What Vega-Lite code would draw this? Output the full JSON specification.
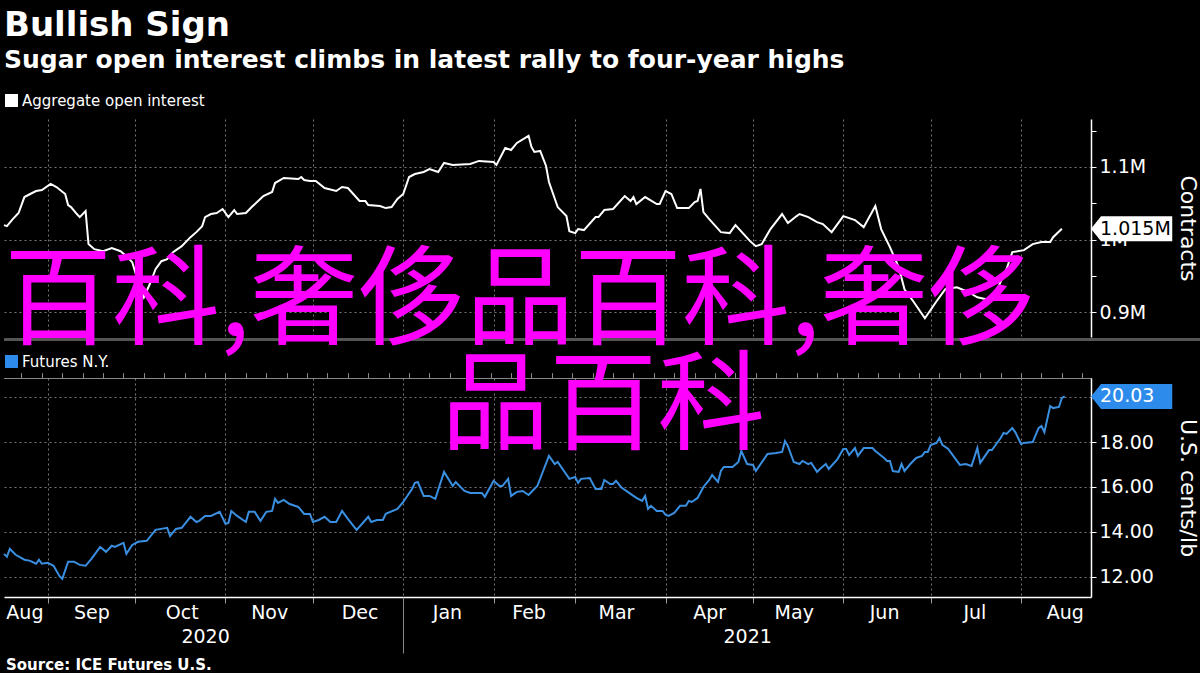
{
"$schema": "https://vega.github.io/schema/vega-lite/v6.json",
"background": "black",
"padding": {"left": 0, "top": 9, "right": 0, "bottom": 0},
"title": {"text": "Bullish Sign", "subtitle": "Sugar open interest climbs in latest rally to four-year highs", "anchor": "start", "frame": "group", "font": "DejaVu Sans", "fontSize": 34, "fontWeight": "bold", "color": "white", "subtitleFont": "DejaVu Sans", "subtitleFontSize": 25, "subtitleFontWeight": "bold", "subtitleColor": "white", "subtitlePadding": 5, "offset": 20, "dx": 0},
"datasets": {
"oi": [
{"d":"2020-08-17","v":1020000},{"d":"2020-08-18","v":1018600},{"d":"2020-08-20","v":1028300},{"d":"2020-08-22","v":1036600},{"d":"2020-08-24","v":1058600},{"d":"2020-08-26","v":1062800},{"d":"2020-08-28","v":1066900},{"d":"2020-08-30","v":1068300},{"d":"2020-09-02","v":1076600},{"d":"2020-09-04","v":1072400},{"d":"2020-09-07","v":1062800},{"d":"2020-09-08","v":1047600},{"d":"2020-09-09","v":1044800},{"d":"2020-09-11","v":1035200},{"d":"2020-09-12","v":1031000},{"d":"2020-09-14","v":1039300},{"d":"2020-09-15","v":993800},{"d":"2020-09-17","v":986900},{"d":"2020-09-20","v":984100},{"d":"2020-09-23","v":988300},{"d":"2020-09-26","v":984100},{"d":"2020-09-28","v":977200},{"d":"2020-09-30","v":969000},{"d":"2020-10-02","v":942800},{"d":"2020-10-04","v":920700},{"d":"2020-10-06","v":938600},{"d":"2020-10-08","v":959300},{"d":"2020-10-10","v":970300},{"d":"2020-10-12","v":973100},{"d":"2020-10-14","v":982800},{"d":"2020-10-17","v":991000},{"d":"2020-10-20","v":1003400},{"d":"2020-10-22","v":1010300},{"d":"2020-10-24","v":1018600},{"d":"2020-10-25","v":1031000},{"d":"2020-10-27","v":1035200},{"d":"2020-10-29","v":1036600},{"d":"2020-10-31","v":1042100},{"d":"2020-11-02","v":1031000},{"d":"2020-11-04","v":1040700},{"d":"2020-11-05","v":1035200},{"d":"2020-11-08","v":1036600},{"d":"2020-11-10","v":1044800},{"d":"2020-11-14","v":1060000},{"d":"2020-11-17","v":1065500},{"d":"2020-11-18","v":1077900},{"d":"2020-11-21","v":1084800},{"d":"2020-11-26","v":1083400},{"d":"2020-11-27","v":1086200},{"d":"2020-11-28","v":1082100},{"d":"2020-11-30","v":1080700},{"d":"2020-12-02","v":1080700},{"d":"2020-12-05","v":1071000},{"d":"2020-12-09","v":1066900},{"d":"2020-12-11","v":1072400},{"d":"2020-12-13","v":1071000},{"d":"2020-12-17","v":1053100},{"d":"2020-12-19","v":1053100},{"d":"2020-12-20","v":1047600},{"d":"2020-12-24","v":1046200},{"d":"2020-12-26","v":1043400},{"d":"2020-12-28","v":1044800},{"d":"2020-12-30","v":1055900},{"d":"2021-01-01","v":1062800},{"d":"2021-01-03","v":1086200},{"d":"2021-01-05","v":1090300},{"d":"2021-01-08","v":1093100},{"d":"2021-01-10","v":1097200},{"d":"2021-01-13","v":1093100},{"d":"2021-01-15","v":1105500},{"d":"2021-01-18","v":1102800},{"d":"2021-01-24","v":1104100},{"d":"2021-01-27","v":1108300},{"d":"2021-02-01","v":1106900},{"d":"2021-02-02","v":1102800},{"d":"2021-02-05","v":1126200},{"d":"2021-02-07","v":1123400},{"d":"2021-02-09","v":1133100},{"d":"2021-02-13","v":1142800},{"d":"2021-02-14","v":1127600},{"d":"2021-02-15","v":1120700},{"d":"2021-02-17","v":1122100},{"d":"2021-02-19","v":1101400},{"d":"2021-02-20","v":1079300},{"d":"2021-02-23","v":1044800},{"d":"2021-02-26","v":1032400},{"d":"2021-02-27","v":1011700},{"d":"2021-03-01","v":1009000},{"d":"2021-03-02","v":1014500},{"d":"2021-03-04","v":1013100},{"d":"2021-03-08","v":1031000},{"d":"2021-03-09","v":1031000},{"d":"2021-03-11","v":1040700},{"d":"2021-03-14","v":1042100},{"d":"2021-03-18","v":1060000},{"d":"2021-03-20","v":1053100},{"d":"2021-03-21","v":1058600},{"d":"2021-03-22","v":1049000},{"d":"2021-03-25","v":1058600},{"d":"2021-03-29","v":1049000},{"d":"2021-03-30","v":1049000},{"d":"2021-04-01","v":1066900},{"d":"2021-04-03","v":1062800},{"d":"2021-04-05","v":1043400},{"d":"2021-04-09","v":1043400},{"d":"2021-04-11","v":1051700},{"d":"2021-04-12","v":1053100},{"d":"2021-04-13","v":1069700},{"d":"2021-04-14","v":1037900},{"d":"2021-04-16","v":1028300},{"d":"2021-04-20","v":1010300},{"d":"2021-04-23","v":1009000},{"d":"2021-04-25","v":1020000},{"d":"2021-04-30","v":997900},{"d":"2021-05-02","v":991000},{"d":"2021-05-04","v":993800},{"d":"2021-05-07","v":1014500},{"d":"2021-05-11","v":1035200},{"d":"2021-05-13","v":1022800},{"d":"2021-05-16","v":1032400},{"d":"2021-05-17","v":1035200},{"d":"2021-05-20","v":1031000},{"d":"2021-05-23","v":1024100},{"d":"2021-05-25","v":1021400},{"d":"2021-05-28","v":1010300},{"d":"2021-06-01","v":1032400},{"d":"2021-06-05","v":1026900},{"d":"2021-06-08","v":1017200},{"d":"2021-06-12","v":1046200},{"d":"2021-06-14","v":1014500},{"d":"2021-06-17","v":989700},{"d":"2021-06-20","v":962100},{"d":"2021-06-22","v":931700},{"d":"2021-06-25","v":915200},{"d":"2021-06-29","v":891700},{"d":"2021-07-03","v":915200},{"d":"2021-07-06","v":931700},{"d":"2021-07-10","v":934500},{"d":"2021-07-14","v":927600},{"d":"2021-07-17","v":920700},{"d":"2021-07-20","v":917900},{"d":"2021-07-23","v":924800},{"d":"2021-07-27","v":959300},{"d":"2021-07-29","v":982800},{"d":"2021-08-02","v":985500},{"d":"2021-08-05","v":993800},{"d":"2021-08-08","v":996600},{"d":"2021-08-11","v":996600},{"d":"2021-08-12","v":1003400},{"d":"2021-08-15","v":1015000}
],
"px": [
{"d":"2020-08-17","v":13.02},{"d":"2020-08-18","v":12.89},{"d":"2020-08-19","v":13.24},{"d":"2020-08-21","v":12.98},{"d":"2020-08-24","v":12.76},{"d":"2020-08-26","v":12.71},{"d":"2020-08-28","v":12.58},{"d":"2020-08-29","v":12.76},{"d":"2020-08-30","v":12.58},{"d":"2020-09-01","v":12.62},{"d":"2020-09-03","v":12.49},{"d":"2020-09-05","v":12.04},{"d":"2020-09-06","v":11.91},{"d":"2020-09-08","v":12.67},{"d":"2020-09-10","v":12.67},{"d":"2020-09-12","v":12.53},{"d":"2020-09-14","v":12.49},{"d":"2020-09-16","v":12.80},{"d":"2020-09-19","v":13.33},{"d":"2020-09-21","v":13.11},{"d":"2020-09-23","v":13.38},{"d":"2020-09-24","v":13.33},{"d":"2020-09-27","v":13.51},{"d":"2020-09-28","v":13.02},{"d":"2020-09-30","v":13.42},{"d":"2020-10-02","v":13.56},{"d":"2020-10-05","v":13.60},{"d":"2020-10-08","v":14.09},{"d":"2020-10-12","v":14.18},{"d":"2020-10-13","v":13.82},{"d":"2020-10-15","v":14.13},{"d":"2020-10-17","v":14.18},{"d":"2020-10-20","v":14.67},{"d":"2020-10-22","v":14.44},{"d":"2020-10-23","v":14.49},{"d":"2020-10-25","v":14.71},{"d":"2020-10-27","v":14.71},{"d":"2020-10-30","v":14.89},{"d":"2020-11-01","v":14.36},{"d":"2020-11-02","v":14.40},{"d":"2020-11-03","v":14.93},{"d":"2020-11-05","v":14.71},{"d":"2020-11-08","v":14.44},{"d":"2020-11-09","v":14.89},{"d":"2020-11-11","v":14.89},{"d":"2020-11-13","v":14.49},{"d":"2020-11-15","v":14.89},{"d":"2020-11-17","v":14.93},{"d":"2020-11-18","v":15.47},{"d":"2020-11-19","v":15.29},{"d":"2020-11-21","v":15.42},{"d":"2020-11-23","v":15.24},{"d":"2020-11-26","v":15.11},{"d":"2020-11-28","v":14.80},{"d":"2020-11-30","v":14.80},{"d":"2020-12-01","v":14.44},{"d":"2020-12-03","v":14.53},{"d":"2020-12-05","v":14.67},{"d":"2020-12-07","v":14.44},{"d":"2020-12-09","v":14.44},{"d":"2020-12-11","v":14.93},{"d":"2020-12-13","v":14.58},{"d":"2020-12-16","v":14.09},{"d":"2020-12-20","v":14.67},{"d":"2020-12-21","v":14.44},{"d":"2020-12-23","v":14.53},{"d":"2020-12-25","v":14.53},{"d":"2020-12-26","v":14.80},{"d":"2020-12-30","v":15.02},{"d":"2021-01-01","v":15.33},{"d":"2021-01-04","v":15.91},{"d":"2021-01-05","v":16.18},{"d":"2021-01-06","v":16.22},{"d":"2021-01-08","v":15.60},{"d":"2021-01-10","v":15.60},{"d":"2021-01-12","v":15.47},{"d":"2021-01-15","v":16.67},{"d":"2021-01-18","v":16.04},{"d":"2021-01-19","v":16.22},{"d":"2021-01-22","v":15.82},{"d":"2021-01-24","v":15.73},{"d":"2021-01-28","v":15.73},{"d":"2021-01-29","v":15.56},{"d":"2021-02-01","v":16.27},{"d":"2021-02-03","v":16.04},{"d":"2021-02-04","v":16.04},{"d":"2021-02-06","v":16.36},{"d":"2021-02-07","v":15.60},{"d":"2021-02-09","v":15.78},{"d":"2021-02-11","v":15.82},{"d":"2021-02-13","v":15.64},{"d":"2021-02-16","v":16.04},{"d":"2021-02-18","v":16.71},{"d":"2021-02-20","v":17.38},{"d":"2021-02-22","v":17.02},{"d":"2021-02-23","v":17.11},{"d":"2021-02-27","v":16.36},{"d":"2021-03-01","v":16.44},{"d":"2021-03-02","v":16.18},{"d":"2021-03-03","v":16.36},{"d":"2021-03-06","v":16.40},{"d":"2021-03-08","v":15.91},{"d":"2021-03-10","v":15.91},{"d":"2021-03-11","v":16.31},{"d":"2021-03-13","v":16.13},{"d":"2021-03-14","v":16.13},{"d":"2021-03-15","v":16.27},{"d":"2021-03-17","v":15.96},{"d":"2021-03-20","v":15.69},{"d":"2021-03-22","v":15.51},{"d":"2021-03-24","v":15.38},{"d":"2021-03-25","v":15.60},{"d":"2021-03-26","v":15.02},{"d":"2021-03-27","v":15.16},{"d":"2021-03-29","v":14.93},{"d":"2021-03-31","v":14.93},{"d":"2021-04-01","v":14.76},{"d":"2021-04-02","v":14.71},{"d":"2021-04-04","v":14.84},{"d":"2021-04-06","v":15.16},{"d":"2021-04-08","v":15.16},{"d":"2021-04-09","v":15.38},{"d":"2021-04-10","v":15.33},{"d":"2021-04-12","v":15.51},{"d":"2021-04-14","v":16.00},{"d":"2021-04-16","v":16.31},{"d":"2021-04-17","v":16.53},{"d":"2021-04-19","v":16.22},{"d":"2021-04-20","v":16.71},{"d":"2021-04-21","v":16.89},{"d":"2021-04-24","v":16.89},{"d":"2021-04-26","v":17.11},{"d":"2021-04-27","v":17.60},{"d":"2021-04-29","v":17.02},{"d":"2021-05-01","v":16.98},{"d":"2021-05-02","v":16.71},{"d":"2021-05-06","v":17.47},{"d":"2021-05-09","v":17.51},{"d":"2021-05-11","v":17.56},{"d":"2021-05-12","v":18.04},{"d":"2021-05-13","v":17.82},{"d":"2021-05-15","v":17.11},{"d":"2021-05-17","v":17.02},{"d":"2021-05-18","v":17.16},{"d":"2021-05-20","v":17.02},{"d":"2021-05-21","v":17.07},{"d":"2021-05-23","v":16.67},{"d":"2021-05-24","v":16.80},{"d":"2021-05-26","v":17.02},{"d":"2021-05-27","v":16.80},{"d":"2021-05-30","v":17.24},{"d":"2021-06-01","v":17.69},{"d":"2021-06-02","v":17.69},{"d":"2021-06-03","v":17.42},{"d":"2021-06-05","v":17.73},{"d":"2021-06-06","v":17.38},{"d":"2021-06-08","v":17.73},{"d":"2021-06-11","v":17.73},{"d":"2021-06-12","v":17.60},{"d":"2021-06-15","v":17.29},{"d":"2021-06-16","v":17.16},{"d":"2021-06-17","v":17.16},{"d":"2021-06-18","v":16.71},{"d":"2021-06-20","v":16.67},{"d":"2021-06-21","v":17.02},{"d":"2021-06-22","v":16.71},{"d":"2021-06-24","v":17.02},{"d":"2021-06-26","v":17.29},{"d":"2021-06-28","v":17.38},{"d":"2021-06-29","v":17.56},{"d":"2021-06-30","v":17.56},{"d":"2021-07-01","v":17.87},{"d":"2021-07-03","v":17.96},{"d":"2021-07-04","v":18.18},{"d":"2021-07-05","v":17.87},{"d":"2021-07-07","v":17.69},{"d":"2021-07-11","v":16.98},{"d":"2021-07-13","v":17.02},{"d":"2021-07-15","v":16.93},{"d":"2021-07-17","v":17.73},{"d":"2021-07-18","v":17.07},{"d":"2021-07-21","v":17.64},{"d":"2021-07-22","v":17.64},{"d":"2021-07-25","v":18.18},{"d":"2021-07-26","v":18.40},{"d":"2021-07-27","v":18.36},{"d":"2021-07-29","v":18.62},{"d":"2021-07-30","v":18.44},{"d":"2021-08-01","v":17.91},{"d":"2021-08-02","v":17.96},{"d":"2021-08-05","v":18.00},{"d":"2021-08-07","v":18.62},{"d":"2021-08-08","v":18.71},{"d":"2021-08-09","v":18.44},{"d":"2021-08-11","v":19.60},{"d":"2021-08-12","v":19.51},{"d":"2021-08-14","v":19.56},{"d":"2021-08-15","v":19.96},{"d":"2021-08-16","v":20.03}
],
"wm1": [{"d": "2020-08-17", "v": 911400, "t": "百科,奢侈品百科,奢侈"}],
"wm2": [{"d": "2021-01-14", "v": 19.47, "t": "品百科"}]
},
"vconcat": [
{
"width": 1087, "height": 218,
"layer": [
{"data": {"name": "oi"}, "mark": {"type": "line", "strokeWidth": 2},
 "encoding": {
  "x": {"field": "d", "type": "temporal", "scale": {"type": "utc", "domain": [{"year": 2020, "month": 8, "date": 17, "utc": true}, {"year": 2021, "month": 8, "date": 25, "utc": true}]},
   "axis": {"values": [{"year":2020,"month":9,"date":1,"utc":true},{"year":2020,"month":10,"date":1,"utc":true},{"year":2020,"month":11,"date":1,"utc":true},{"year":2020,"month":12,"date":1,"utc":true},{"year":2021,"month":1,"date":1,"utc":true},{"year":2021,"month":2,"date":1,"utc":true},{"year":2021,"month":3,"date":1,"utc":true},{"year":2021,"month":4,"date":1,"utc":true},{"year":2021,"month":5,"date":1,"utc":true},{"year":2021,"month":6,"date":1,"utc":true},{"year":2021,"month":7,"date":1,"utc":true},{"year":2021,"month":8,"date":1,"utc":true}],
    "grid": true, "gridColor": "#777777", "gridDash": [2, 3], "gridWidth": 1, "labels": false, "ticks": false, "domain": false, "title": null}},
  "y": {"field": "v", "type": "quantitative", "scale": {"domain": [866000, 1166000], "nice": false, "zero": false},
   "axis": {"orient": "right", "values": [900000, 950000, 1000000, 1050000, 1100000, 1150000],
    "labelExpr": "datum.value == 900000 ? '0.9M' : datum.value == 1000000 ? '1M' : datum.value == 1100000 ? '1.1M' : ''",
    "grid": true, "gridColor": "#777777", "gridDash": [2, 3], "gridOpacity": {"condition": {"test": "datum.value % 100000 == 0", "value": 1}, "value": 0},
    "tickSize": 5, "tickColor": "white", "domainColor": "white", "domainWidth": 1.5,
    "labelFont": "DejaVu Sans", "labelFontSize": 19, "labelColor": "white", "labelPadding": 3, "labelOverlap": false,
    "title": "Contracts", "titleFont": "DejaVu Sans", "titleFontSize": 22, "titleFontWeight": "normal", "titleColor": "white", "titlePadding": 30}},
  "color": {"datum": "Aggregate open interest", "scale": {"range": ["white"]},
   "legend": {"title": null, "orient": "top", "symbolType": "square", "symbolSize": 169, "symbolFillColor": "white", "symbolStrokeColor": "white", "symbolStrokeWidth": 0, "labelFont": "DejaVu Sans", "labelFontSize": 15, "labelColor": "white", "labelLimit": 0, "padding": 0, "offset": 10, "labelOffset": 3}}
 }},
{"data": {"values": [{}]}, "mark": {"type": "rule", "color": "#555555", "strokeWidth": 3},
 "encoding": {
  "x": {"datum": {"year": 2020, "month": 8, "date": 17, "utc": true}, "type": "temporal", "scale": {"type": "utc", "domain": [{"year": 2020, "month": 8, "date": 17, "utc": true}, {"year": 2021, "month": 8, "date": 25, "utc": true}]}},
  "x2": {"datum": {"year": 2021, "month": 10, "date": 5, "utc": true}},
  "y": {"datum": 862600, "type": "quantitative", "scale": {"domain": [866000, 1166000], "nice": false, "zero": false}}
 }},
{"data": {"values": [{}]}, "mark": {"type": "point", "shape": "M0,0L0.8,-1L6.5,-1L6.5,1L0.8,1Z", "size": 625, "filled": true, "color": "white", "opacity": 1, "strokeWidth": 0},
 "encoding": {
  "x": {"datum": {"year": 2021, "month": 8, "date": 25, "utc": true}, "type": "temporal", "scale": {"type": "utc", "domain": [{"year": 2020, "month": 8, "date": 17, "utc": true}, {"year": 2021, "month": 8, "date": 25, "utc": true}]}},
  "y": {"datum": 1015000, "type": "quantitative", "scale": {"domain": [866000, 1166000], "nice": false, "zero": false}}
 }},
{"data": {"values": [{"label": "1.015M"}]}, "mark": {"type": "text", "align": "left", "baseline": "middle", "dx": 9, "font": "DejaVu Sans", "fontSize": 19, "color": "black"},
 "encoding": {
  "x": {"datum": {"year": 2021, "month": 8, "date": 25, "utc": true}, "type": "temporal", "scale": {"type": "utc", "domain": [{"year": 2020, "month": 8, "date": 17, "utc": true}, {"year": 2021, "month": 8, "date": 25, "utc": true}]}},
  "y": {"datum": 1015000, "type": "quantitative", "scale": {"domain": [866000, 1166000], "nice": false, "zero": false}},
  "text": {"field": "label"}
 }},
{"data": {"name": "wm1"}, "mark": {"type": "text", "align": "left", "baseline": "middle", "font": "Noto Sans CJK SC", "fontSize": 108, "color": "#ff00ff"},
 "encoding": {
  "x": {"field": "d", "type": "temporal", "scale": {"type": "utc", "domain": [{"year": 2020, "month": 8, "date": 17, "utc": true}, {"year": 2021, "month": 8, "date": 25, "utc": true}]}},
  "y": {"field": "v", "type": "quantitative", "scale": {"domain": [866000, 1166000], "nice": false, "zero": false}},
  "text": {"field": "t"}
 }}
]
},
{
"width": 1087, "height": 219,
"title": {"text": "Source: ICE Futures U.S.", "orient": "bottom", "anchor": "start", "font": "DejaVu Sans", "fontSize": 15, "fontWeight": "bold", "color": "white", "offset": 4, "dx": 6},
"resolve": {"axis": {"x": "independent"}},
"layer": [
{"data": {"name": "px"}, "mark": {"type": "line", "strokeWidth": 2},
 "encoding": {
  "x": {"field": "d", "type": "temporal", "scale": {"type": "utc", "domain": [{"year": 2020, "month": 8, "date": 17, "utc": true}, {"year": 2021, "month": 8, "date": 25, "utc": true}]},
   "axis": {"orient": "bottom", "values": [{"year":2020,"month":9,"date":1,"utc":true},{"year":2020,"month":10,"date":1,"utc":true},{"year":2020,"month":11,"date":1,"utc":true},{"year":2020,"month":12,"date":1,"utc":true},{"year":2021,"month":1,"date":1,"utc":true},{"year":2021,"month":2,"date":1,"utc":true},{"year":2021,"month":3,"date":1,"utc":true},{"year":2021,"month":4,"date":1,"utc":true},{"year":2021,"month":5,"date":1,"utc":true},{"year":2021,"month":6,"date":1,"utc":true},{"year":2021,"month":7,"date":1,"utc":true},{"year":2021,"month":8,"date":1,"utc":true}],
    "grid": true, "gridColor": "#777777", "gridDash": [2, 3], "gridWidth": 1, "labels": false, "ticks": true, "tickSize": 6, "tickColor": "#999999", "domain": true, "domainColor": "white", "domainWidth": 1.5, "title": null}},
  "y": {"field": "v", "type": "quantitative", "scale": {"domain": [11.1, 20.85], "nice": false, "zero": false},
   "axis": {"orient": "right", "values": [12, 13, 14, 15, 16, 17, 18, 19, 20],
    "labelExpr": "datum.value % 2 == 0 ? format(datum.value, '.2f') : ''",
    "grid": true, "gridColor": "#777777", "gridDash": [2, 3], "gridOpacity": {"condition": {"test": "datum.value % 2 == 0", "value": 1}, "value": 0},
    "tickSize": 5, "tickColor": "white", "domainColor": "white", "domainWidth": 1.5,
    "labelFont": "DejaVu Sans", "labelFontSize": 19, "labelColor": "white", "labelPadding": 3, "labelOverlap": false,
    "title": "U.S. cents/lb", "titleFont": "DejaVu Sans", "titleFontSize": 22, "titleFontWeight": "normal", "titleColor": "white", "titlePadding": 22}},
  "color": {"datum": "Futures N.Y.", "scale": {"range": ["#3a8fe0"]},
   "legend": {"title": null, "orient": "top", "symbolType": "square", "symbolSize": 169, "symbolFillColor": "#2d8ceb", "symbolStrokeColor": "#2d8ceb", "symbolStrokeWidth": 0, "labelFont": "DejaVu Sans", "labelFontSize": 15, "labelColor": "white", "labelLimit": 0, "padding": 0, "offset": -24, "labelOffset": 3}}
 }},
{"data": {"name": "px"}, "mark": {"type": "line", "opacity": 0},
 "encoding": {
  "x": {"field": "d", "type": "temporal", "scale": {"type": "utc", "domain": [{"year": 2020, "month": 8, "date": 17, "utc": true}, {"year": 2021, "month": 8, "date": 25, "utc": true}]},
   "axis": {"orient": "bottom", "values": [{"year":2020,"month":8,"date":24,"utc":true},{"year":2020,"month":9,"date":16,"utc":true},{"year":2020,"month":10,"date":17,"utc":true},{"year":2020,"month":11,"date":16,"utc":true},{"year":2020,"month":12,"date":17,"utc":true},{"year":2021,"month":1,"date":16,"utc":true},{"year":2021,"month":2,"date":13,"utc":true},{"year":2021,"month":3,"date":15,"utc":true},{"year":2021,"month":4,"date":16,"utc":true},{"year":2021,"month":5,"date":15,"utc":true},{"year":2021,"month":6,"date":15,"utc":true},{"year":2021,"month":7,"date":16,"utc":true},{"year":2021,"month":8,"date":16,"utc":true}],
    "format": "%b", "labelFlush": false, "labelOverlap": false, "labelBound": false, "ticks": false, "domain": false, "grid": false,
    "labelFont": "DejaVu Sans", "labelFontSize": 19, "labelColor": "white", "labelPadding": 6, "title": null}},
  "y": {"field": "v", "type": "quantitative", "scale": {"domain": [11.1, 20.85], "nice": false, "zero": false}}
 }},
{"data": {"name": "px"}, "mark": {"type": "line", "opacity": 0},
 "encoding": {
  "x": {"field": "d", "type": "temporal", "scale": {"type": "utc", "domain": [{"year": 2020, "month": 8, "date": 17, "utc": true}, {"year": 2021, "month": 8, "date": 25, "utc": true}]},
   "axis": {"orient": "bottom", "values": [{"year":2020,"month":10,"date":25,"utc":true},{"year":2021,"month":4,"date":29,"utc":true}],
    "format": "%Y", "labelFlush": false, "labelOverlap": false, "labelBound": false, "ticks": false, "domain": false, "grid": false,
    "labelFont": "DejaVu Sans", "labelFontSize": 19, "labelColor": "white", "labelPadding": 30, "title": null}},
  "y": {"field": "v", "type": "quantitative", "scale": {"domain": [11.1, 20.85], "nice": false, "zero": false}}
 }},
{"data": {"name": "px"}, "mark": {"type": "line", "opacity": 0},
 "encoding": {
  "x": {"field": "d", "type": "temporal", "scale": {"type": "utc", "domain": [{"year": 2020, "month": 8, "date": 17, "utc": true}, {"year": 2021, "month": 8, "date": 25, "utc": true}]},
   "axis": {"orient": "bottom", "values": [{"year":2021,"month":1,"date":1,"utc":true}],
    "labels": false, "ticks": true, "tickSize": 56, "tickColor": "#888888", "tickWidth": 1, "domain": false, "grid": false, "title": null}},
  "y": {"field": "v", "type": "quantitative", "scale": {"domain": [11.1, 20.85], "nice": false, "zero": false}}
 }},
{"data": {"values": [{}]}, "mark": {"type": "point", "shape": "M0,0L0.8,-1L6.5,-1L6.5,1L0.8,1Z", "size": 625, "filled": true, "color": "#2d8ceb", "opacity": 1, "strokeWidth": 0},
 "encoding": {
  "x": {"datum": {"year": 2021, "month": 8, "date": 25, "utc": true}, "type": "temporal", "scale": {"type": "utc", "domain": [{"year": 2020, "month": 8, "date": 17, "utc": true}, {"year": 2021, "month": 8, "date": 25, "utc": true}]}},
  "y": {"datum": 20.03, "type": "quantitative", "scale": {"domain": [11.1, 20.85], "nice": false, "zero": false}}
 }},
{"data": {"values": [{"label": "20.03"}]}, "mark": {"type": "text", "align": "left", "baseline": "middle", "dx": 9, "font": "DejaVu Sans", "fontSize": 19, "color": "white"},
 "encoding": {
  "x": {"datum": {"year": 2021, "month": 8, "date": 25, "utc": true}, "type": "temporal", "scale": {"type": "utc", "domain": [{"year": 2020, "month": 8, "date": 17, "utc": true}, {"year": 2021, "month": 8, "date": 25, "utc": true}]}},
  "y": {"datum": 20.03, "type": "quantitative", "scale": {"domain": [11.1, 20.85], "nice": false, "zero": false}},
  "text": {"field": "label"}
 }},
{"data": {"name": "wm2"}, "mark": {"type": "text", "align": "left", "baseline": "middle", "font": "Noto Sans CJK SC", "fontSize": 108, "color": "#ff00ff"},
 "encoding": {
  "x": {"field": "d", "type": "temporal", "scale": {"type": "utc", "domain": [{"year": 2020, "month": 8, "date": 17, "utc": true}, {"year": 2021, "month": 8, "date": 25, "utc": true}]}},
  "y": {"field": "v", "type": "quantitative", "scale": {"domain": [11.1, 20.85], "nice": false, "zero": false}},
  "text": {"field": "t"}
 }}
]
}
],
"spacing": 41,
"bounds": "flush",
"resolve": {"scale": {"color": "independent"}, "legend": {"color": "independent"}},
"config": {"view": {"stroke": null}, "font": "DejaVu Sans"}
}
